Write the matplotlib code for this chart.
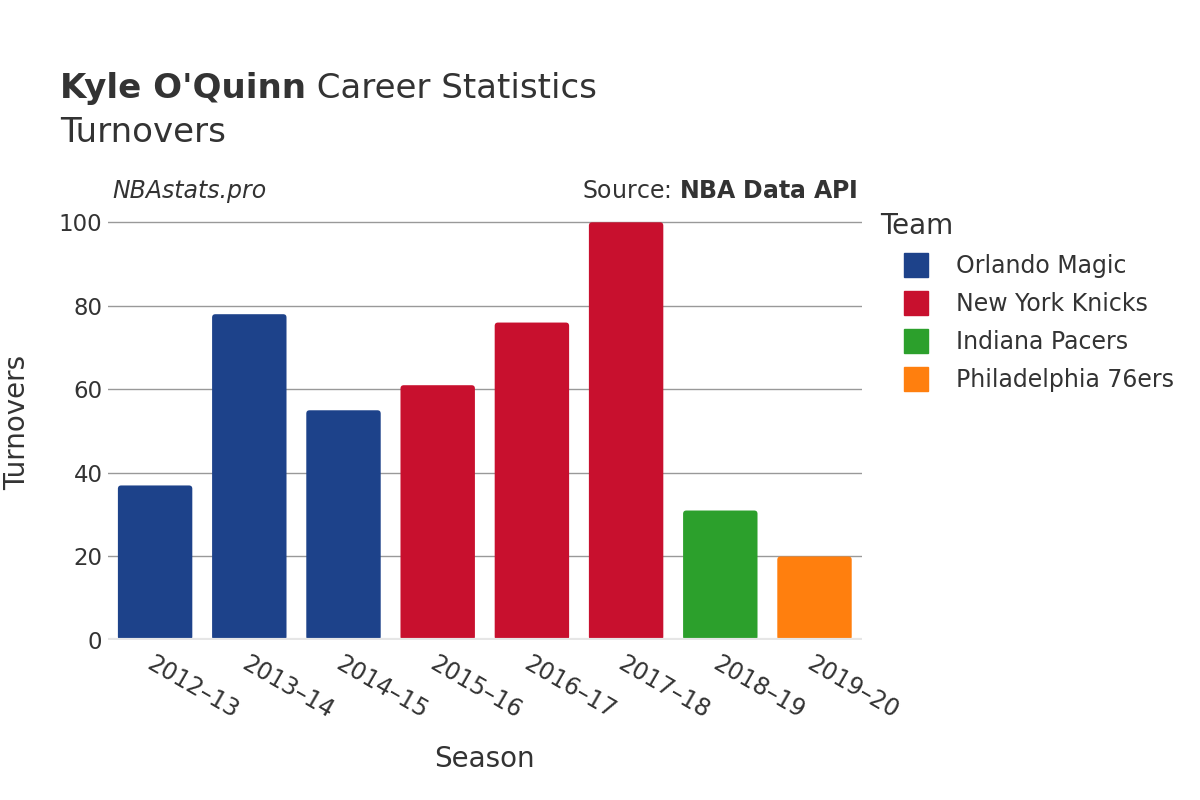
import matplotlib.pyplot as plt
from matplotlib.lines import Line2D
from matplotlib.patches import FancyBboxPatch

seasons = ['2012–13', '2013–14', '2014–15', '2015–16', '2016–17', '2017–18', '2018–19', '2019–20']
turnovers = [37, 78, 55, 61, 76, 100, 31, 20]
teams = ['Orlando Magic', 'Orlando Magic', 'Orlando Magic', 'New York Knicks',
         'New York Knicks', 'New York Knicks', 'Indiana Pacers', 'Philadelphia 76ers']
team_order = ['Orlando Magic', 'New York Knicks', 'Indiana Pacers', 'Philadelphia 76ers']
team_colors = {'Orlando Magic': '#1d428a', 'New York Knicks': '#c8102e',
               'Indiana Pacers': '#2ca02c', 'Philadelphia 76ers': '#ff7f0e'}

txt = '#333333'
plt.rcParams['font.family'] = ['DejaVu Sans']

fig = plt.figure(figsize=(12, 8), dpi=100)
ax = fig.add_axes([0.09, 0.2, 0.628, 0.543])

x = range(len(seasons))
bars = ax.bar(x, turnovers, width=0.79, color=[team_colors[t] for t in teams], zorder=3)

ax.set_xlim(-0.5, len(seasons) - 0.5)
ax.set_ylim(0, 104)

# swap the plain bars for slightly rounded ones
for b in bars:
    rb = FancyBboxPatch((b.get_x(), b.get_y()), b.get_width(), b.get_height(),
                        boxstyle='round,pad=0,rounding_size=0.035', mutation_aspect=22.5,
                        facecolor=b.get_facecolor(), edgecolor='none', zorder=3)
    ax.add_patch(rb)
    b.remove()

ax.set_yticks([0, 20, 40, 60, 80, 100])
ax.grid(axis='y', color='#999999', linewidth=1, zorder=0)
ax.axhline(0, color='#e6e6e6', linewidth=3, zorder=4)
for s in ax.spines.values():
    s.set_visible(False)
ax.tick_params(axis='y', length=0, labelsize=16.5, colors=txt, pad=4)
ax.tick_params(axis='x', length=0, labelsize=17, colors=txt, pad=8)
ax.set_xticks(list(x))
ax.set_xticklabels(seasons, rotation=-30, ha='left', rotation_mode='anchor')

ax.set_xlabel('Season', fontsize=20, color=txt, labelpad=16)
ax.set_ylabel('Turnovers', fontsize=20, color=txt, labelpad=20)

# title: bold name followed by normal text
t1 = fig.text(0.05, 0.889, "Kyle O'Quinn", fontsize=24.5, fontweight='bold', color=txt, va='center')
fig.canvas.draw()
bb = t1.get_window_extent(fig.canvas.get_renderer())
fig.text(bb.x1 / fig.bbox.width, 0.889, " Career Statistics", fontsize=24.5, color=txt, va='center')
fig.text(0.05, 0.834, 'Turnovers', fontsize=24.5, color=txt, va='center')

fig.text(0.094, 0.761, 'NBAstats.pro', fontsize=17, style='italic', color=txt, va='center')
fig.text(0.715, 0.761, 'Source: $\\bf{NBA\\ Data\\ API}$', fontsize=17, color=txt,
         va='center', ha='right')

handles = [Line2D([0], [0], marker='s', linestyle='', markersize=17,
                  markerfacecolor=team_colors[t], markeredgecolor=team_colors[t])
           for t in team_order]
leg = fig.legend(handles, team_order, loc='upper left', bbox_to_anchor=(0.716, 0.762),
                 frameon=False, fontsize=17, title='Team', title_fontsize=20,
                 labelspacing=0.6, handlelength=3.05, handletextpad=0.17,
                 borderpad=0.4, alignment='left')
for t in leg.get_texts():
    t.set_color(txt)
leg.get_title().set_color(txt)

fig.savefig('out.png', dpi=100)
